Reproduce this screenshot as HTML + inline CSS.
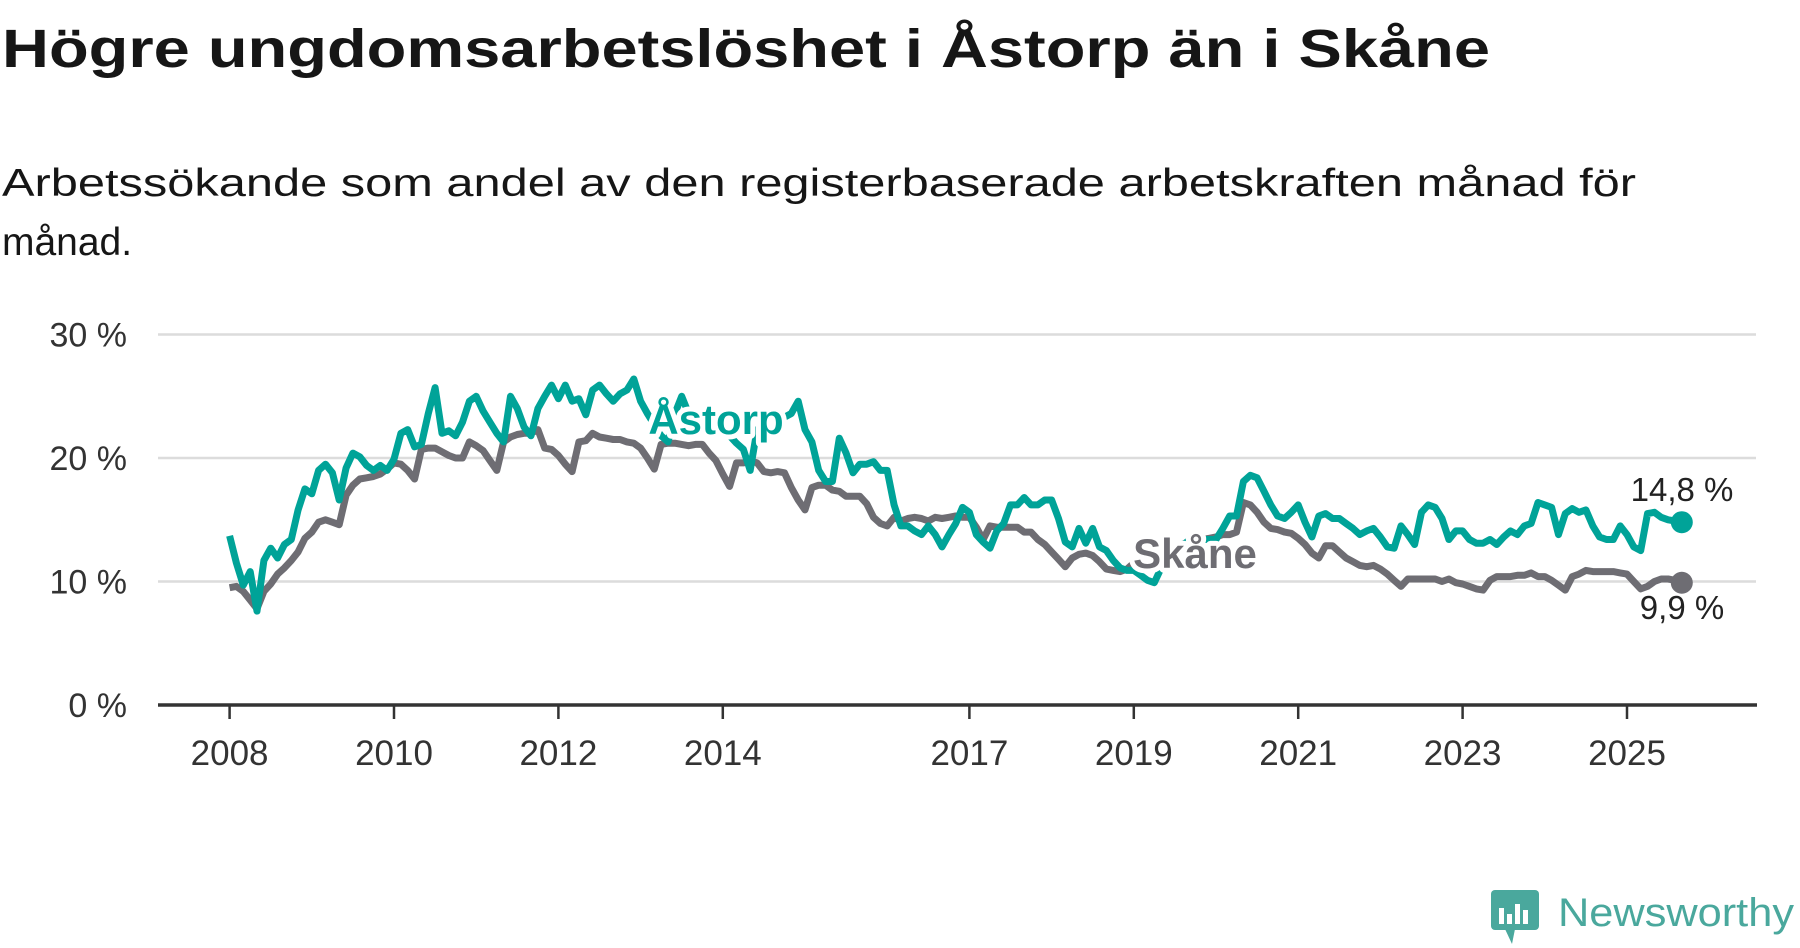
<!DOCTYPE html>
<html><head><meta charset="utf-8"><style>
html,body{margin:0;padding:0;background:#fff;width:1800px;height:948px;overflow:hidden}
svg{display:block}
text{font-family:"Liberation Sans",sans-serif}
</style></head><body>
<svg id="chart" width="1800" height="948" viewBox="0 0 1800 948">
<text x="2" y="67" font-size="54" font-weight="bold" fill="#161616" textLength="1488" lengthAdjust="spacingAndGlyphs">Högre ungdomsarbetslöshet i Åstorp än i Skåne</text>
<text x="2" y="196" font-size="39" fill="#161616" textLength="1634" lengthAdjust="spacingAndGlyphs">Arbetssökande som andel av den registerbaserade arbetskraften månad för</text>
<text x="2" y="255" font-size="39" fill="#161616">månad.</text>
<g id="grid"></g>
<g id="yticks"></g>
<g id="xticks"></g>
<g id="series"></g>
<g id="labels"></g>
<g>
<rect x="1491" y="890" width="48" height="40" rx="4" fill="#4aa89d"/>
<polygon points="1505,929 1515,929 1512,944" fill="#4aa89d"/>
<rect x="1499" y="908" width="5" height="16" fill="#fff"/><rect x="1507" y="914" width="5" height="10" fill="#fff"/><rect x="1515" y="904" width="5" height="20" fill="#fff"/><rect x="1523" y="910" width="5" height="14" fill="#fff"/>
<text x="1558" y="926" font-size="40" fill="#4aa89d" textLength="236" lengthAdjust="spacingAndGlyphs">Newsworthy</text>
</g>
</svg>
<script>
const yTicks=[0,10,20,30];
const yTickLabels=["0 %","10 %","20 %","30 %"];
const xTickYears=[2008,2010,2012,2014,2017,2019,2021,2023,2025];
const startYear=2008;
const astorp=[
13.7,11.5,9.7,10.8,7.6,11.7,12.7,11.9,13.0,13.4,15.8,17.5,
17.1,19.0,19.5,18.8,16.6,19.2,20.4,20.1,19.4,19.0,19.4,19.0,
19.9,22.0,22.3,20.9,21.1,23.6,25.7,22.0,22.2,21.8,22.9,24.6,
25.0,23.8,22.9,22.0,21.3,25.0,24.0,22.5,21.8,24.0,25.0,25.9,
24.8,25.9,24.6,24.8,23.5,25.5,25.9,25.2,24.6,25.2,25.5,26.4,
24.6,23.6,22.7,21.8,21.3,23.6,25.0,23.6,22.7,22.7,22.5,22.3,
22.3,21.8,21.2,20.7,19.0,22.3,22.5,22.7,22.9,23.3,23.6,24.6,
22.3,21.3,19.0,18.1,18.1,21.6,20.4,18.8,19.5,19.5,19.7,19.0,
19.0,16.2,14.5,14.5,14.1,13.8,14.5,13.8,12.8,13.8,14.7,16.0,
15.6,13.8,13.2,12.7,14.1,14.7,16.2,16.2,16.8,16.2,16.2,16.6,
16.6,15.1,13.2,12.8,14.3,13.1,14.3,12.8,12.5,11.7,11.1,10.9,
10.9,10.5,10.1,9.9,11.1,12.0,12.5,12.9,13.3,13.6,13.4,13.4,
13.4,14.3,15.3,15.3,18.1,18.6,18.4,17.3,16.2,15.3,15.1,15.6,
16.2,14.8,13.6,15.3,15.5,15.1,15.1,14.7,14.3,13.8,14.1,14.3,
13.6,12.8,12.7,14.5,13.8,13.0,15.6,16.2,16.0,15.1,13.4,14.1,
14.1,13.4,13.1,13.1,13.4,13.0,13.6,14.1,13.8,14.5,14.7,16.4,
16.2,16.0,13.8,15.5,15.9,15.6,15.8,14.5,13.6,13.4,13.4,14.5,
13.8,12.8,12.5,15.5,15.6,15.2,15.0,14.9,14.8];
const skane=[
9.5,9.6,9.2,8.5,7.8,9.2,9.8,10.6,11.1,11.7,12.4,13.5,
14.0,14.8,15.0,14.8,14.6,17.0,17.8,18.3,18.4,18.5,18.7,19.1,
19.6,19.5,19.0,18.3,20.7,20.8,20.8,20.5,20.2,20.0,20.0,21.3,
21.0,20.6,19.8,19.0,21.3,21.7,21.9,22.0,22.0,22.3,20.8,20.7,
20.2,19.5,18.9,21.3,21.4,22.0,21.7,21.6,21.5,21.5,21.3,21.2,
20.8,20.0,19.1,21.1,21.2,21.2,21.1,21.0,21.1,21.1,20.4,19.8,
18.7,17.7,19.6,19.6,19.8,19.6,18.9,18.8,18.9,18.8,17.6,16.6,
15.8,17.6,17.8,17.8,17.4,17.3,16.9,16.9,16.9,16.3,15.2,14.7,
14.5,15.2,14.9,15.1,15.2,15.1,14.9,15.2,15.1,15.2,15.3,15.2,
15.2,14.4,13.4,14.5,14.4,14.4,14.4,14.4,14.0,14.0,13.4,13.0,
12.4,11.8,11.2,11.9,12.2,12.3,12.1,11.6,11.0,10.9,10.8,11.0,
11.5,11.8,12.0,12.2,12.3,12.6,12.8,13.0,13.2,13.4,13.4,13.5,
13.6,13.8,13.8,14.0,16.4,16.2,15.6,14.8,14.3,14.2,14.0,13.9,
13.5,13.0,12.3,11.9,12.9,12.9,12.4,11.9,11.6,11.3,11.2,11.3,
11.0,10.6,10.1,9.6,10.2,10.2,10.2,10.2,10.2,10.0,10.2,9.9,
9.8,9.6,9.4,9.3,10.1,10.4,10.4,10.4,10.5,10.5,10.7,10.4,
10.4,10.1,9.7,9.3,10.4,10.6,10.9,10.8,10.8,10.8,10.8,10.7,
10.6,10.0,9.4,9.6,10.0,10.2,10.2,10.1,9.9];
const seriesNames=["Åstorp","Skåne"];
const endLabels=["14,8 %","9,9 %"];

const NS="http://www.w3.org/2000/svg";
const y0=705, yPer=12.35, x0=229.6, xPerYear=82.2;
function Y(v){return y0-v*yPer;}
function X(monthIndex){return x0+monthIndex*xPerYear/12;}
function mk(tag,attrs,parent){const e=document.createElementNS(NS,tag);for(const k in attrs)e.setAttribute(k,attrs[k]);parent.appendChild(e);return e;}
const grid=document.getElementById('grid'),yt=document.getElementById('yticks'),xt=document.getElementById('xticks'),ser=document.getElementById('series'),lab=document.getElementById('labels');
yTicks.forEach((v,i)=>{
  if(v>0){const l=mk('line',{x1:158,x2:1756,y1:Y(v),y2:Y(v),stroke:'#dcdcdc','stroke-width':2.5},grid);
  
  }
  const t=mk('text',{x:127,y:Y(v)+12,'font-size':34,'text-anchor':'end',fill:'#333'},yt);
  t.textContent=yTickLabels[i];
  
  
});
const ax=mk('line',{x1:158,x2:1757,y1:y0,y2:y0,stroke:'#333','stroke-width':3.5},xt);


xTickYears.forEach(yr=>{
  const x=X((yr-startYear)*12);
  const tk=mk('line',{x1:x,x2:x,y1:y0,y2:y0+14,stroke:'#333','stroke-width':2.5},xt);
  
  
  const t=mk('text',{x:x,y:765,'font-size':35,'text-anchor':'middle',fill:'#333'},xt);
  t.textContent=yr;
  
  
});
function drawSeries(data,color,name){
  const d=data.map((v,i)=>(i?'L':'M')+X(i).toFixed(1)+','+Y(v).toFixed(1)).join('');
  const p=mk('path',{d:d,fill:'none',stroke:color,'stroke-width':7,'stroke-linejoin':'round'},ser);
  
  
  const n=data.length-1;
  const c=mk('circle',{cx:X(n),cy:Y(data[n]),r:11,fill:color},ser);
  
  
}
drawSeries(skane,'#6e6d73','skane');
drawSeries(astorp,'#00a398','astorp');
function label(txt,x,y,color,size,bold,name){
  const t=mk('text',{x:x,y:y,'font-size':size,'text-anchor':'middle',fill:color,'font-weight':bold?'bold':'normal',stroke:'#fff','stroke-width':bold?10:0,'paint-order':'stroke','stroke-linejoin':'round'},lab);
  t.textContent=txt;
  
  
}
label(seriesNames[0],716,434,'#00a398',42,true,'astorp-label');
label(seriesNames[1],1195,568,'#6e6d73',42,true,'skane-label');
label(endLabels[0],1682,501,'#222',33,false,'astorp-end-value');
label(endLabels[1],1682,619,'#222',33,false,'skane-end-value');
</script>
</body></html>
